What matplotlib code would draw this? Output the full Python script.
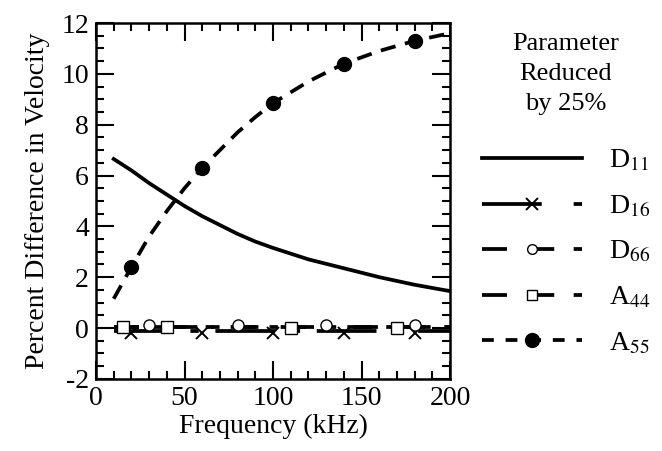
import matplotlib
matplotlib.use("Agg")
import matplotlib.pyplot as plt
from matplotlib.ticker import MultipleLocator
from matplotlib.lines import Line2D

plt.rcParams['font.family'] = ['Liberation Serif', 'DejaVu Serif']
plt.rcParams['mathtext.fontset'] = 'stix'
plt.rcParams['lines.scale_dashes'] = False
plt.rcParams['axes.unicode_minus'] = False

# ---- data ----
freq_curve = [10, 20, 30, 40, 50, 60, 70, 80, 90, 100, 120, 140, 160, 180, 200]
d11 = [6.65, 6.2, 5.7, 5.25, 4.8, 4.4, 4.05, 3.7, 3.4, 3.15, 2.7, 2.35, 2.0, 1.7, 1.45]
a55 = [1.15, 2.4, 3.6, 4.6, 5.5, 6.3, 7.0, 7.7, 8.3, 8.85, 9.7, 10.4, 10.9, 11.3, 11.6]

a55_mark_x = [20, 60, 100, 140, 180]
a55_mark_y = [2.4, 6.3, 8.85, 10.4, 11.3]

flat_x = [10, 200]
d16 = [-0.1, -0.1]
d66 = [0.05, 0.05]
a44 = [0.02, 0.02]

d16_mark_x = [20, 60, 100, 140, 180]
d16_mark_y = [-0.2, -0.2, -0.2, -0.2, -0.2]
d66_mark_x = [30, 80, 130, 180]
d66_mark_y = [0.12, 0.12, 0.12, 0.12]
a44_mark_x = [15, 40, 110, 170]
a44_mark_y = [0.05, 0.05, 0.0, 0.0]

labels = ['D$_{11}$', 'D$_{16}$', 'D$_{66}$', 'A$_{44}$', 'A$_{55}$']
legend_title = 'Parameter\nReduced\nby 25%'

fig = plt.figure(figsize=(6.62, 4.51), dpi=100)
ax = fig.add_axes([0.145, 0.160, 0.535, 0.789])

lw = 2.7
ax.plot(flat_x, a44, color='black', lw=lw, dashes=(18, 10, 6, 8))
ax.plot(flat_x, d66, color='black', lw=lw, dashes=(18, 16, 18, 14, 6, 14))
ax.plot(flat_x, d16, color='black', lw=lw, dashes=(43, 12, 6, 12))
ax.plot(d16_mark_x, d16_mark_y, ls='none', marker='x', ms=8, mew=1.4, color='black')
ax.plot(d66_mark_x, d66_mark_y, ls='none', marker='o', ms=8, mew=1.0, mfc='white', color='black')
ax.plot(a44_mark_x, a44_mark_y, ls='none', marker='s', ms=8, mew=1.0, mfc='white', color='black')
ax.plot(freq_curve, d11, color='black', lw=lw)
ax.plot(freq_curve, a55, color='black', lw=lw, dashes=(11, 7))
ax.plot(a55_mark_x, a55_mark_y, ls='none', marker='o', ms=10, color='black')

ax.set_xlim(0, 200)
ax.set_ylim(-2, 12)
ax.xaxis.set_major_locator(MultipleLocator(50))
ax.xaxis.set_minor_locator(MultipleLocator(10))
ax.yaxis.set_major_locator(MultipleLocator(2))
ax.yaxis.set_minor_locator(MultipleLocator(0.5))
ax.tick_params(which='both', direction='in', top=True, right=True, width=1.5,
               labelsize=20, pad=5)
ax.tick_params(which='major', length=13)
ax.tick_params(which='minor', length=6)
for s in ax.spines.values():
    s.set_linewidth(1.8)
ax.set_xlabel('Frequency (kHz)', fontsize=20, labelpad=2)
ax.set_ylabel('Percent Difference in Velocity', fontsize=20, labelpad=8)

# legend
h = [
    Line2D([], [], color='black', lw=lw),
    Line2D([], [], color='black', lw=lw, marker='x', ms=8, mew=1.4, dashes=(43, 23, 6, 23)),
    Line2D([], [], color='black', lw=lw, marker='o', ms=7, mew=1.0, mfc='white', dashes=(18, 16, 18, 14, 6, 14)),
    Line2D([], [], color='black', lw=lw, marker='s', ms=7, mew=1.0, mfc='white', dashes=(18, 16, 18, 14, 6, 14)),
    Line2D([], [], color='black', lw=lw, marker='o', ms=10, dashes=(8.5, 8.5)),
]
leg = fig.legend(h, labels, loc='upper left', bbox_to_anchor=(0.690, 0.982),
                 frameon=False, fontsize=20, handlelength=3.6, numpoints=1,
                 title=legend_title, title_fontsize=19,
                 labelspacing=0.72, handletextpad=0.97)
leg._legend_box.align = 'center'
leg._legend_box.sep = 24
leg.get_title().set_multialignment('center')
leg.get_title().set_linespacing(1.46)

fig.savefig('out.png', dpi=100)
